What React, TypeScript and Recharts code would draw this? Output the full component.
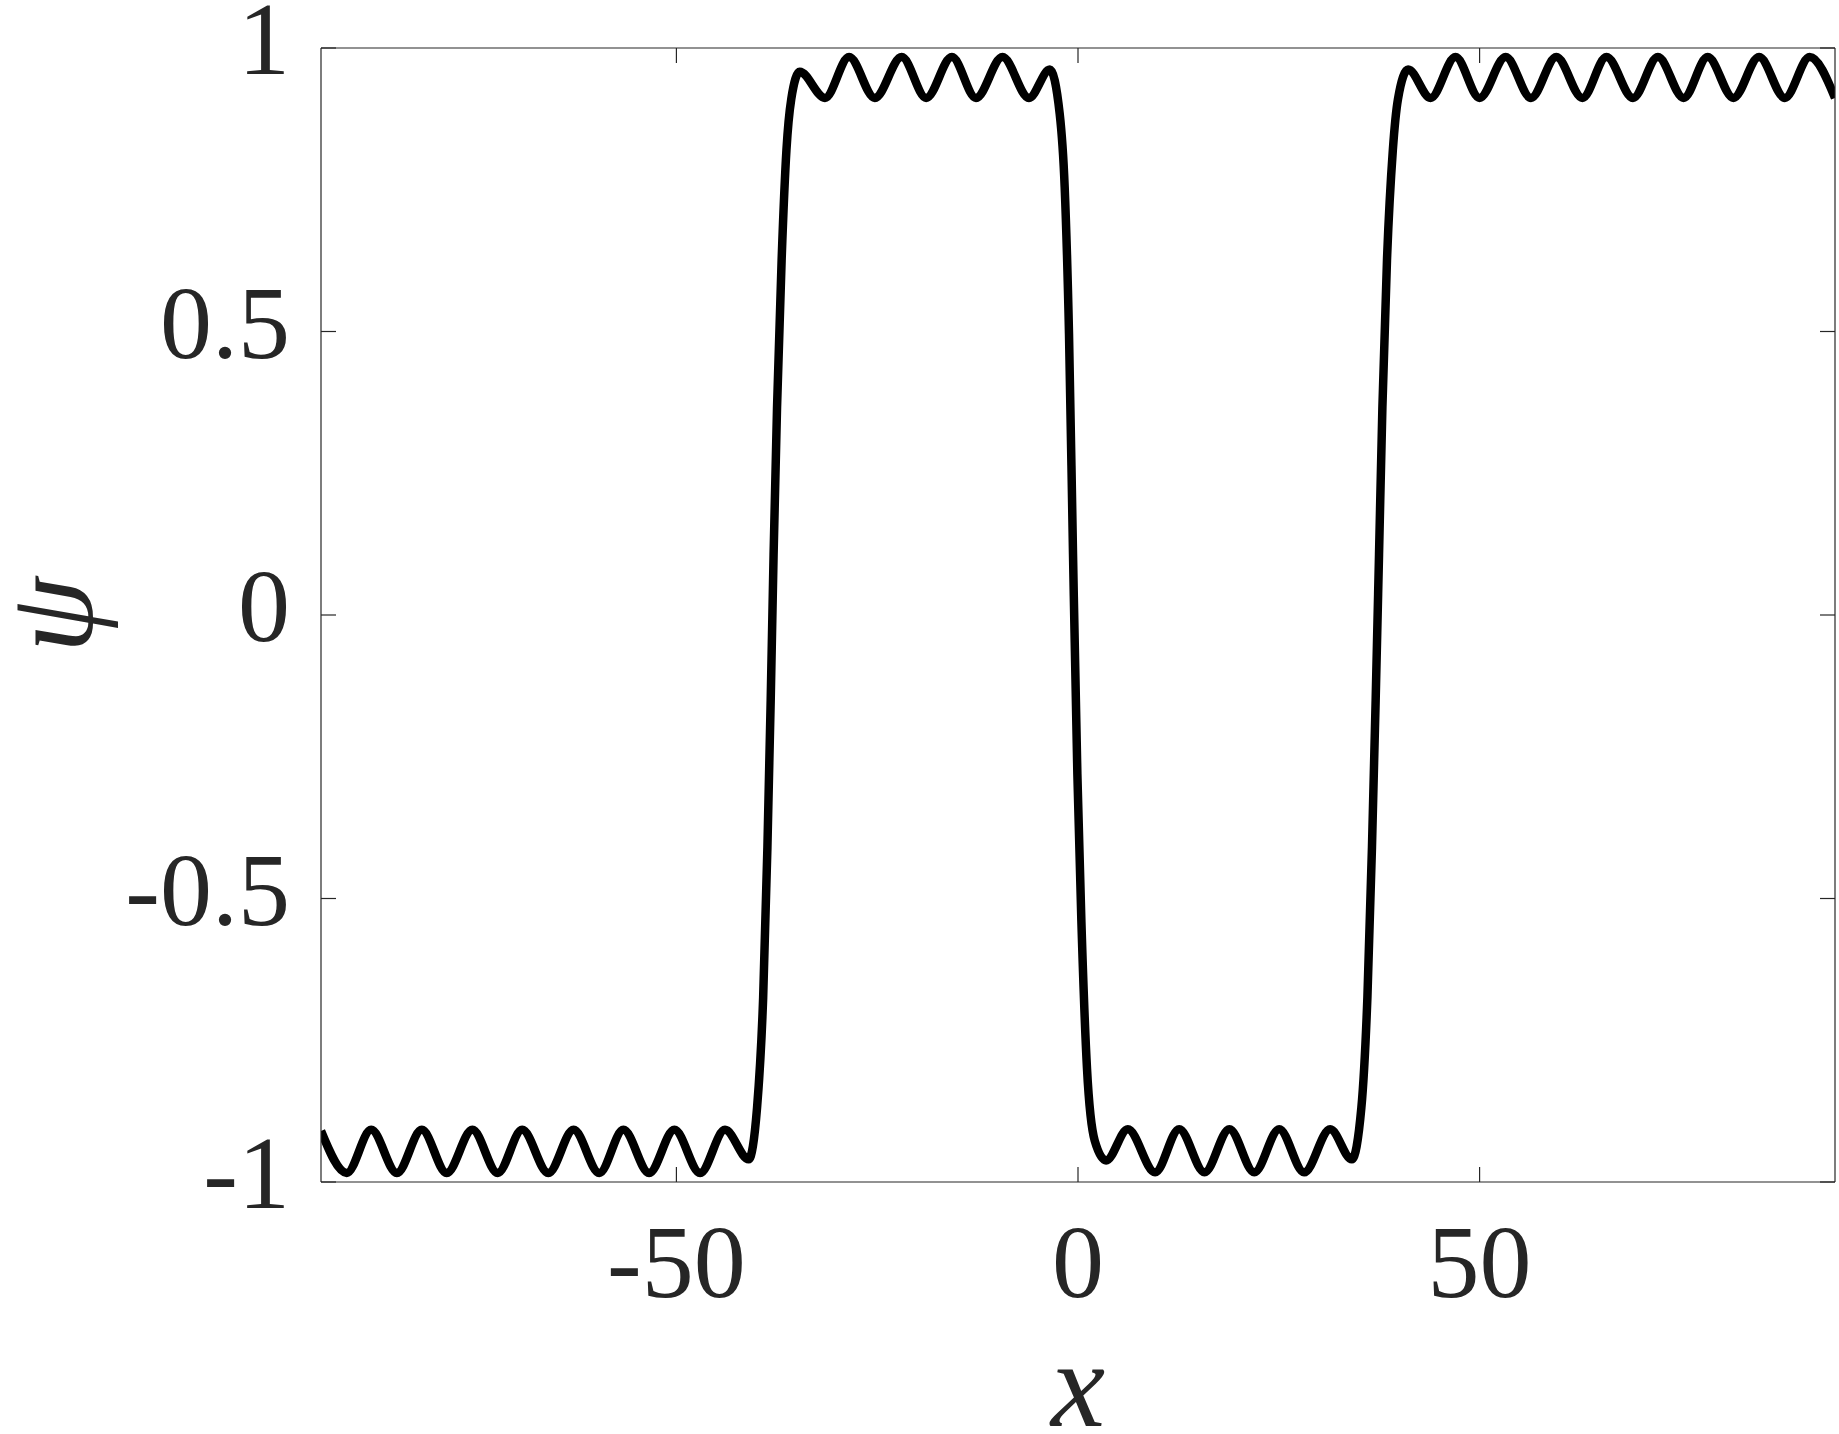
import { LineChart, Line, XAxis, YAxis } from 'recharts'

// psi(x), one list per stretch of the curve: [x, psi]
const lowLeft: [number, number][] = [
  [-94.25, -0.91], [-91.05, -0.984], [-88.0, -0.908], [-84.8, -0.984], [-81.7, -0.908],
  [-78.6, -0.984], [-75.4, -0.908], [-72.25, -0.984], [-69.2, -0.908], [-65.95, -0.984],
  [-62.8, -0.908], [-59.6, -0.984], [-56.6, -0.908], [-53.4, -0.984], [-50.25, -0.908],
  [-47.05, -0.984], [-43.95, -0.908],
]
const riseLeft: [number, number][] = [
  [-41.0, -0.96], [-39.96, -0.869], [-39.2, -0.675], [-38.67, -0.41], [-38.26, -0.15],
  [-37.9, 0.107], [-37.47, 0.367], [-36.9, 0.626], [-36.3, 0.82], [-35.7, 0.91], [-34.65, 0.958],
]
const highMid: [number, number][] = [
  [-31.5, 0.912], [-28.5, 0.984], [-25.3, 0.912], [-21.95, 0.984], [-18.9, 0.912],
  [-15.7, 0.984], [-12.7, 0.912], [-9.4, 0.984], [-6.1, 0.912],
]
const fallMid: [number, number][] = [
  [-3.5, 0.962], [-2.28, 0.884], [-1.66, 0.755], [-1.12, 0.496], [-0.62, 0.107],
  [-0.08, -0.28], [0.42, -0.54], [1.12, -0.8], [2.08, -0.927], [3.5, -0.962],
]
const lowMid: [number, number][] = [
  [6.2, -0.907], [9.6, -0.983], [12.6, -0.907], [15.75, -0.983], [18.85, -0.907],
  [21.95, -0.983], [25.05, -0.907], [28.15, -0.983], [31.4, -0.907],
]
const riseRight: [number, number][] = [
  [34.1, -0.96], [35.28, -0.869], [36.03, -0.675], [36.6, -0.41], [37.06, -0.15],
  [37.48, 0.107], [37.9, 0.367], [38.47, 0.626], [39.2, 0.82], [39.84, 0.91], [41.1, 0.962],
]
const highRight: [number, number][] = [
  [43.9, 0.912], [47.0, 0.984], [50.0, 0.912], [53.25, 0.984], [56.4, 0.912],
  [59.55, 0.984], [62.8, 0.912], [65.8, 0.984], [69.1, 0.912], [72.2, 0.984],
  [75.4, 0.912], [78.4, 0.984], [81.6, 0.912], [84.8, 0.984], [88.0, 0.912],
  [91.1, 0.984], [94.25, 0.912],
]

const xTicks = [-50, 0, 50]
const yTicks = [-1, -0.5, 0, 0.5, 1]
const xDomain = [-94.25, 94.25]

const data = [...lowLeft, ...riseLeft, ...highMid, ...fallMid, ...lowMid, ...riseRight, ...highRight]
  .map(([x, psi]) => ({ x, psi }))

const ink = '#262626'
const tickFont = '"Liberation Serif", "DejaVu Serif", serif'
const TICK = 15

const BottomTick = (props: any) => {
  const { x, y, payload } = props
  return (
    <g>
      <line x1={x} y1={y} x2={x} y2={y - TICK} stroke={ink} strokeWidth={1.2} />
      <text x={x} y={y + 115} textAnchor="middle" fill={ink} fontFamily={tickFont} fontSize={104}>
        {String(payload.value)}
      </text>
    </g>
  )
}

const TopTick = (props: any) => {
  const { x, y } = props
  return <line x1={x} y1={y} x2={x} y2={y + TICK} stroke={ink} strokeWidth={1.2} />
}

const LeftTick = (props: any) => {
  const { x, y, payload } = props
  return (
    <g>
      <line x1={x} y1={y} x2={x + TICK} y2={y} stroke={ink} strokeWidth={1.2} />
      <text x={x - 31} y={y + 26} textAnchor="end" fill={ink} fontFamily={tickFont} fontSize={104}>
        {String(payload.value)}
      </text>
    </g>
  )
}

const RightTick = (props: any) => {
  const { x, y } = props
  return <line x1={x} y1={y} x2={x - TICK} y2={y} stroke={ink} strokeWidth={1.2} />
}

const XLabel = (props: any) => {
  const { x, y, width } = props.viewBox
  return (
    <text x={x + width / 2} y={y + 244} textAnchor="middle" fill={ink}
      fontFamily={tickFont} fontStyle="italic" fontSize={122}>
      x
    </text>
  )
}

const YLabel = (props: any) => {
  const { y, height } = props.viewBox
  const cx = 50
  const cy = y + height / 2
  return (
    <text x={cx} y={cy} transform={`rotate(-90 ${cx} ${cy})`} textAnchor="middle"
      dominantBaseline="central" fill={ink} fontFamily={tickFont} fontStyle="italic" fontSize={122}>
      ψ
    </text>
  )
}

export default function App() {
  return (
    <div style={{ position: 'absolute', top: 0, left: 0, background: '#fff' }}>
      <LineChart width={1839} height={1434} data={data} margin={{ top: 47, right: 3, left: 0, bottom: 0 }}>
        <XAxis xAxisId="b" dataKey="x" type="number" domain={xDomain} ticks={xTicks} interval={0}
          allowDataOverflow height={252} tickSize={0} tickMargin={0} tickLine={false}
          axisLine={{ stroke: ink, strokeWidth: 1.2 }} tick={BottomTick} label={XLabel} />
        {/* top/right axes only draw the box and the mirrored inner ticks */}
        <XAxis xAxisId="t" orientation="top" dataKey="x" type="number" domain={xDomain} ticks={xTicks}
          interval={0} allowDataOverflow height={1} tickSize={0} tickMargin={0} tickLine={false}
          axisLine={{ stroke: ink, strokeWidth: 1.2 }} tick={TopTick} />
        <YAxis yAxisId="l" type="number" domain={[-1, 1]} ticks={yTicks} interval={0} allowDataOverflow
          width={321} tickSize={0} tickMargin={0} tickLine={false}
          axisLine={{ stroke: ink, strokeWidth: 1.2 }} tick={LeftTick} label={YLabel} />
        <YAxis yAxisId="r" orientation="right" type="number" domain={[-1, 1]} ticks={yTicks} interval={0}
          allowDataOverflow width={1} tickSize={0} tickMargin={0} tickLine={false}
          axisLine={{ stroke: ink, strokeWidth: 1.2 }} tick={RightTick} />
        <Line xAxisId="t" yAxisId="r" type="monotone" dataKey="psi" stroke="none" strokeWidth={0}
          dot={false} activeDot={false} isAnimationActive={false} />
        <Line xAxisId="b" yAxisId="l" type="monotone" dataKey="psi" stroke="#000" strokeWidth={8.5}
          dot={false} activeDot={false} isAnimationActive={false} />
      </LineChart>
    </div>
  )
}
